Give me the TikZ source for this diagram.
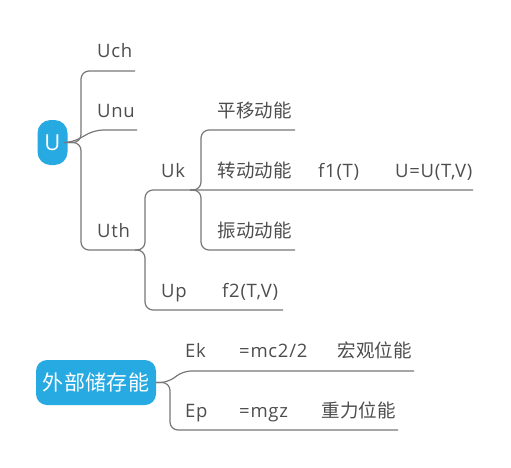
\documentclass[tikz,border=0pt]{standalone}
\usepackage{fontspec}
\setmainfont{Open Sans}[LetterSpace=4]
\newfontfamily\cjk{Noto Sans CJK SC}[LetterSpace=2]
\definecolor{txt}{HTML}{4D4D4D}
\definecolor{ln}{HTML}{777777}
\definecolor{blu}{HTML}{27A9E1}
\begin{document}
\begin{tikzpicture}[x=1pt,y=-1pt,
  lbl/.style={anchor=base west, inner sep=0pt, text=txt, font=\fontsize{18.5}{20}\selectfont},
  cj/.style={anchor=base west, inner sep=0pt, text=txt, font=\cjk\fontsize{18.5}{20}\selectfont},
  conn/.style={draw=ln, line width=1.2pt, rounded corners=8pt},
  topic/.style={fill=blu, text=white, inner sep=0pt}]
\useasboundingbox (0,0) rectangle (511,467);

% topics
\node[topic, rounded corners=13pt, minimum width=30pt, minimum height=45pt,
      font=\fontsize{22}{24}\selectfont] (U) at (52.5,142.5) {U};
\node[topic, rounded corners=11pt, minimum width=120pt, minimum height=45pt,
      font=\cjk\fontsize{21}{24}\selectfont] (W) at (96,382.5) {外部储存能};

% line ends
\coordinate (uchE) at (135,71);
\coordinate (unuE) at (137,130);
\coordinate (uthE) at (135,250);
\coordinate (zdE) at (473,190);
\coordinate (upE) at (283,310);
\coordinate (ukJ) at (190,190);
\coordinate (pyE) at (295,130);
\coordinate (zhE) at (295,250);
\coordinate (ekE) at (414,371);
\coordinate (epE) at (398,430);

% connectors
\draw[conn] (U.east) -- (81,142.5) |- (uchE);
\draw[conn] (U.east) -- (72,142.5) -- (95,130) -- (unuE);
\draw[conn] (U.east) -- (81,142.5) |- (uthE);
\draw[conn] (uthE) -- (145,250) |- (zdE);
\draw[conn] (uthE) -- (145,250) |- (upE);
\draw[conn] (ukJ) -- (201,190) |- (pyE);
\draw[conn] (ukJ) -- (201,190) |- (zhE);
\draw[conn] (W.east) -- (168,382.5) -- (183,371) -- (ekE);
\draw[conn] (W.east) -- (170,382.5) |- (epE);

% labels
\node[lbl] (uch) at (97,57) {Uch};
\node[lbl] (unu) at (97,117) {Unu};
\node[lbl] (uth) at (97,237) {Uth};
\node[lbl] (uk) at (161,177.5) {Uk};
\node[lbl] (up) at (161,297) {Up};
\node[lbl] (f2) at (222,297) {f2(T,V)};
\node[cj] (py) at (217,117) {平移动能};
\node[cj] (zd) at (217,177.5) {转动动能};
\node[lbl] (f1) at (318,177.5) {f1(T)};
\node[lbl] (uuv) at (395,177.5) {U=U(T,V)};
\node[cj] (zh) at (217,237) {振动动能};
\node[lbl] (ek) at (185,357) {Ek};
\node[lbl] (mc) at (239,357) {=mc2/2};
\node[cj] (hg) at (337,357) {宏观位能};
\node[lbl] (ep) at (185,417) {Ep};
\node[lbl] (mg) at (239,417) {=mgz};
\node[cj] (zl) at (321,417) {重力位能};
\end{tikzpicture}
\end{document}
